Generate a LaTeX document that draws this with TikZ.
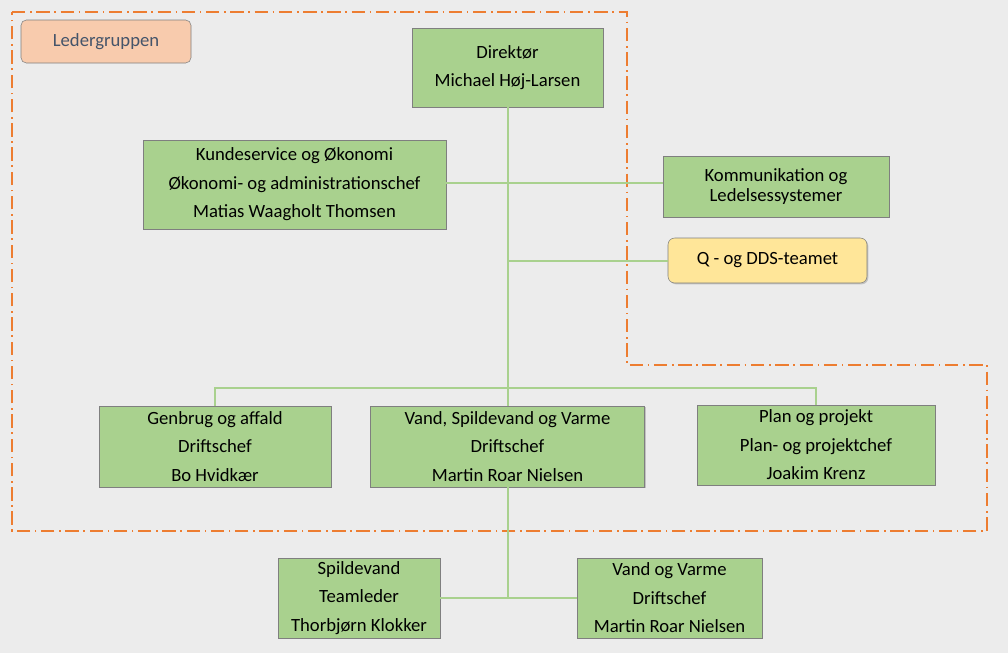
\documentclass[tikz,border=0pt]{standalone}
\usepackage{fontspec}
\setmainfont{Carlito}
\usetikzlibrary{shadows}

\definecolor{bggray}{HTML}{ECECEC}
\definecolor{boxgreen}{HTML}{A9D18E}
\definecolor{boxline}{HTML}{7F7F7F}
\definecolor{linegreen}{HTML}{A9D18E}
\definecolor{frameorange}{HTML}{ED7D31}
\definecolor{tagfill}{HTML}{F8CBAD}
\definecolor{tagtext}{HTML}{44546A}
\definecolor{qfill}{HTML}{FFE699}

\tikzset{
  unit/.style={draw=boxline, fill=boxgreen, inner sep=0pt, align=center,
    font=\fontsize{14}{21.4}\selectfont,
    drop shadow={shadow xshift=1pt, shadow yshift=-1pt, fill=black!40, opacity=0.5}},
  size/.style 2 args={minimum width=#1*0.75pt, minimum height=#2*0.75pt},
  link/.style={draw=linegreen, line width=1.5pt},
}

\begin{document}
\begin{tikzpicture}[x=0.75pt,y=-0.75pt]
  \fill[bggray] (0,0) rectangle (1008,653);
  \useasboundingbox (0,0) rectangle (1008,653);

  % ledergruppen frame
  \draw[frameorange, line width=1.5pt, dash pattern=on 10pt off 3.5pt on 1.2pt off 3.5pt]
    (12,12) -- (627,12) -- (627,365) -- (987,365) -- (987,531) -- (12,531) -- cycle;

  \node[draw=boxline, fill=tagfill, rounded corners=4pt, size={170}{43}, inner sep=0pt,
        text=tagtext, font=\fontsize{14}{17}\selectfont]
    (tag) at (106,41.5) {Ledergruppen};

  \node[unit, size={191}{79}]  (dir)    at (507.5,67.5) {Direktør\\Michael Høj-Larsen};
  \node[unit, size={303}{89}]  (kunde)  at (294.5,184.5) {Kundeservice og Økonomi\\Økonomi- og administrationschef\\Matias Waagholt Thomsen};
  \node[unit, size={226}{61}, font=\fontsize{14}{15}\selectfont]
                               (komm)   at (776,186.5) {Kommunikation og\\Ledelsessystemer};
  \node[unit, fill=qfill, rounded corners=5pt, size={199}{45}, font=\fontsize{14}{17}\selectfont]
                               (q)      at (767.5,260.5) {Q - og DDS-teamet};
  \node[unit, size={232}{81}]  (genbrug) at (215,446.5) {Genbrug og affald\\Driftschef\\Bo Hvidkær};
  \node[unit, size={274}{81}]  (vand)   at (507.5,446.5) {Vand, Spildevand og Varme\\Driftschef\\Martin Roar Nielsen};
  \node[unit, size={238}{80}]  (plan)   at (816,445) {Plan og projekt\\Plan- og projektchef\\Joakim Krenz};
  \node[unit, size={162}{80}]  (spild)  at (359,598) {Spildevand\\Teamleder\\Thorbjørn Klokker};
  \node[unit, size={185}{80}]  (vv)     at (669.5,598) {Vand og Varme\\Driftschef\\Martin Roar Nielsen};

  \coordinate (bus)  at (dir.south |- 0,388);
  \coordinate (kbus) at (dir.south |- 0,183);
  \coordinate (qbus) at (dir.south |- q.west);
  \coordinate (low)  at (vand.south |- spild.east);

  \draw[link] (dir.south) -- (bus);
  \draw[link] (kunde.east |- kbus) -- (kbus) -- (komm.west |- kbus);
  \draw[link] (qbus) -- (q.west);
  \draw[link] (genbrug.north) |- (bus) -| (plan.north);
  \draw[link] (bus) -- (vand.north);
  \draw[link] (vand.south) -- (low);
  \draw[link] (spild.east) -- (vv.west);
\end{tikzpicture}
\end{document}
